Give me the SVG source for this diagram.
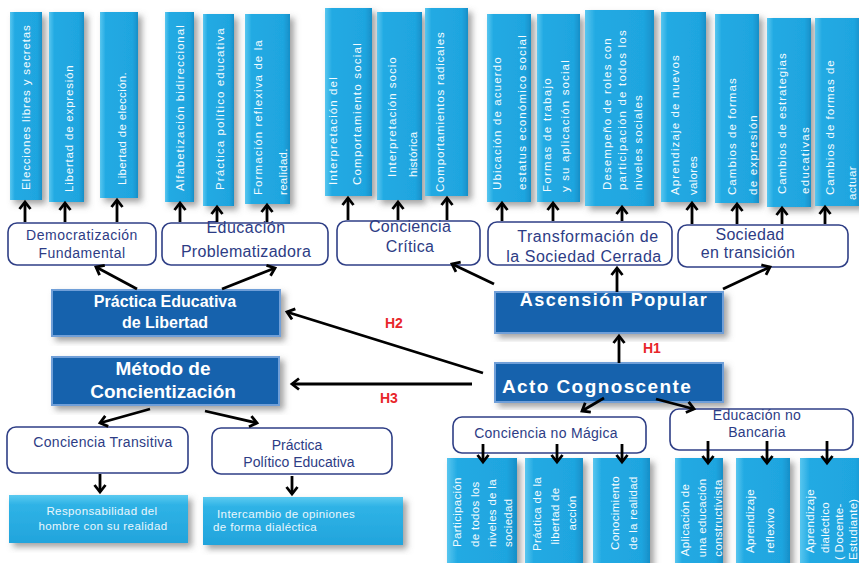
<svg xmlns="http://www.w3.org/2000/svg" width="859" height="563" viewBox="0 0 859 563">
<style>
.vb{fill:url(#gv);filter:url(#sh)}
.lb{fill:url(#gl);filter:url(#sh)}
.db{fill:#1762ad;stroke:#6f9fd8;stroke-width:2;filter:url(#sh)}
.wb{fill:#fff;stroke:#2f3f86;stroke-width:1.6}
.vt{font-family:"Liberation Sans",Arial,sans-serif;font-size:11.5px;fill:#f4fbff;letter-spacing:0.3px}
.wt{font-family:"Liberation Sans",Arial,sans-serif;fill:#2d3c85;text-anchor:middle}
.dt{font-family:"Liberation Sans",Arial,sans-serif;font-weight:bold;fill:#fff;text-anchor:middle}
.lt{font-family:"Liberation Sans",Arial,sans-serif;font-size:11.5px;fill:#eaf7fd;letter-spacing:0.4px}
.h{font-family:"Liberation Sans",Arial,sans-serif;font-weight:bold;font-size:14px;fill:#e8262a}
.ar{fill:none;stroke:#000;stroke-width:2.8;marker-end:url(#ah)}
</style>
<defs>
<linearGradient id="gv" x1="0" y1="0" x2="1" y2="0">
<stop offset="0" stop-color="#58c6ef"/><stop offset="0.15" stop-color="#22aae3"/><stop offset="0.85" stop-color="#1fa5df"/><stop offset="1" stop-color="#178fc8"/>
</linearGradient>
<linearGradient id="gl" x1="0" y1="0" x2="0" y2="1">
<stop offset="0" stop-color="#5ccaf0"/><stop offset="0.2" stop-color="#2fb3e6"/><stop offset="1" stop-color="#22a4dc"/>
</linearGradient>
<filter id="sh" x="-20%" y="-10%" width="150%" height="130%">
<feDropShadow dx="4" dy="4" stdDeviation="3" flood-color="#666" flood-opacity="0.6"/>
</filter>
<marker id="ah" markerWidth="14" markerHeight="14" refX="10" refY="7" orient="auto" markerUnits="userSpaceOnUse">
<path d="M3,1.5 L10,7 L3,12.5" fill="none" stroke="#000" stroke-width="2.8"/>
</marker>
</defs>
<rect width="859" height="563" fill="#fff"/>

<!-- top vertical boxes -->
<g id="t1"><rect class="vb" x="10" y="12" width="32" height="188"/><text class="vt" transform="translate(30,190) rotate(-90)" textLength="165">Elecciones libres y secretas</text></g>
<g id="t2"><rect class="vb" x="49" y="12" width="35" height="190"/><text class="vt" transform="translate(73,192) rotate(-90)" textLength="127">Libertad de expresión</text></g>
<g id="t3"><rect class="vb" x="100" y="12" width="38" height="186"/><text class="vt" transform="translate(126,185) rotate(-90)" textLength="113">Libertad de elección.</text></g>
<g id="t4"><rect class="vb" x="165" y="12" width="29" height="190"/><text class="vt" transform="translate(184,191) rotate(-90)" textLength="166">Alfabetización  bidireccional</text></g>
<g id="t5"><rect class="vb" x="203" y="14" width="31" height="192"/><text class="vt" transform="translate(224,190) rotate(-90)" textLength="162">Práctica  político educativa</text></g>
<g id="t6"><rect class="vb" x="245" y="14" width="45" height="190"/><text class="vt" transform="translate(262,195) rotate(-90)" textLength="155">Formación reflexiva  de la</text><text class="vt" transform="translate(287,195) rotate(-90)">realidad.</text></g>
<g id="t7"><rect class="vb" x="325" y="8" width="47" height="188"/><text class="vt" transform="translate(337,185) rotate(-90)" textLength="108">Interpretación  del</text><text class="vt" transform="translate(361,185) rotate(-90)" textLength="142">Comportamiento  social</text></g>
<g id="t8"><rect class="vb" x="377" y="12" width="45" height="188"/><text class="vt" transform="translate(396,177) rotate(-90)" textLength="120">Interpretación  socio</text><text class="vt" transform="translate(417,177) rotate(-90)">histórica</text></g>
<g id="t9"><rect class="vb" x="425" y="8" width="43" height="188"/><text class="vt" transform="translate(444,192) rotate(-90)" textLength="160">Comportamientos radicales</text></g>
<g id="t10"><rect class="vb" x="487" y="14" width="44" height="188"/><text class="vt" transform="translate(501,190) rotate(-90)" textLength="133">Ubicación de acuerdo</text><text class="vt" transform="translate(526,190) rotate(-90)" textLength="155">estatus económico social</text></g>
<g id="t11"><rect class="vb" x="537" y="14" width="43" height="188"/><text class="vt" transform="translate(551,192) rotate(-90)" textLength="114">Formas de trabajo</text><text class="vt" transform="translate(569,192) rotate(-90)" textLength="132">y  su aplicación  social</text></g>
<g id="t12"><rect class="vb" x="585" y="10" width="69" height="196"/><text class="vt" transform="translate(611,190) rotate(-90)" textLength="152">Desempeño de roles  con</text><text class="vt" transform="translate(626,190) rotate(-90)" textLength="160">participación  de  todos los</text><text class="vt" transform="translate(642,190) rotate(-90)" textLength="95">niveles   sociales</text></g>
<g id="t13"><rect class="vb" x="661" y="12" width="45" height="190"/><text class="vt" transform="translate(679,195) rotate(-90)" textLength="140">Aprendizaje de nuevos</text><text class="vt" transform="translate(697,195) rotate(-90)">valores</text></g>
<g id="t14"><rect class="vb" x="715" y="14" width="44" height="189"/><text class="vt" transform="translate(736,195) rotate(-90)" textLength="117">Cambios de formas</text><text class="vt" transform="translate(757,195) rotate(-90)" textLength="80">de expresión</text></g>
<g id="t15"><rect class="vb" x="767" y="18" width="44" height="189"/><text class="vt" transform="translate(786,194) rotate(-90)" textLength="141">Cambios de estrategias</text><text class="vt" transform="translate(809,194) rotate(-90)" textLength="67">educativas</text></g>
<g id="t16"><rect class="vb" x="815" y="18" width="46" height="188"/><text class="vt" transform="translate(834,195) rotate(-90)" textLength="135">Cambios de formas de</text><text class="vt" transform="translate(856,200) rotate(-90)">actuar</text></g>

<!-- white boxes row -->
<g id="w1"><rect class="wb" x="8" y="223" width="148" height="42" rx="9"/><text class="wt" x="82" y="240" font-size="14" letter-spacing="0.5">Democratización</text><text class="wt" x="82" y="258" font-size="14" letter-spacing="0.5">Fundamental</text></g>
<g id="w2"><rect class="wb" x="162" y="223" width="166" height="42" rx="9"/><text class="wt" x="246" y="233" font-size="16" letter-spacing="0.5">Educación</text><text class="wt" x="246" y="257" font-size="16" letter-spacing="0.3">Problematizadora</text></g>
<g id="w3"><rect class="wb" x="337" y="221" width="143" height="44" rx="9"/><text class="wt" x="410" y="232" font-size="16" letter-spacing="0.3">Conciencia</text><text class="wt" x="410" y="252" font-size="16" letter-spacing="0.3">Crítica</text></g>
<g id="w4"><rect class="wb" x="488" y="222" width="184" height="43" rx="9"/><text class="wt" x="588" y="242" font-size="16" letter-spacing="0.5">Transformación de</text><text class="wt" x="584" y="262" font-size="16" letter-spacing="0.5">la Sociedad  Cerrada</text></g>
<g id="w5"><rect class="wb" x="678" y="225" width="170" height="42" rx="9"/><text class="wt" x="750" y="240" font-size="16" letter-spacing="0.3">Sociedad</text><text class="wt" x="748" y="258" font-size="16" letter-spacing="0.3">en transición</text></g>

<!-- dark boxes -->
<g id="d1"><rect class="db" x="52" y="290" width="228" height="46"/><text class="dt" x="165" y="307" font-size="16">Práctica Educativa</text><text class="dt" x="165" y="328" font-size="16">de Libertad</text></g>
<g id="d2"><rect class="db" x="52" y="357" width="227" height="48"/><text class="dt" x="163" y="375" font-size="19">Método de</text><text class="dt" x="163" y="398" font-size="19">Concientización</text></g>
<g id="d3"><rect class="db" x="495" y="292" width="228" height="41"/><text class="dt" x="614" y="306" font-size="18" letter-spacing="1.5">Ascensión Popular</text></g>
<g id="d4"><rect class="db" x="495" y="363" width="228" height="39"/><text class="dt" x="502" y="393" font-size="19" style="text-anchor:start" letter-spacing="1.4">Acto  Cognoscente</text></g>

<!-- labels -->
<g id="labels"><text class="h" x="643" y="353">H1</text><text class="h" x="385" y="328">H2</text><text class="h" x="380" y="403">H3</text></g>

<!-- lower-left -->
<g id="w6"><rect class="wb" x="7" y="427" width="181" height="46" rx="9"/><text class="wt" x="103" y="447" font-size="14" letter-spacing="0.3">Conciencia Transitiva</text></g>
<g id="w7"><rect class="wb" x="212" y="428" width="180" height="46" rx="9"/><text class="wt" x="297" y="450" font-size="14">Práctica</text><text class="wt" x="299" y="467" font-size="14">Político Educativa</text></g>
<g id="l1"><rect class="lb" x="9" y="495" width="179" height="48"/><text class="lt" x="102" y="515" text-anchor="middle">Responsabilidad  del</text><text class="lt" x="103" y="530" text-anchor="middle">hombre  con su realidad</text></g>
<g id="l2"><rect class="lb" x="203" y="497" width="200" height="48"/><text class="lt" x="217" y="518">Intercambio  de opiniones</text><text class="lt" x="213" y="531">de forma dialéctica</text></g>

<!-- lower-right -->
<g id="w8"><rect class="wb" x="453" y="417" width="193" height="36" rx="9"/><text class="wt" x="546" y="438" font-size="14" letter-spacing="0.3">Conciencia no Mágica</text></g>
<g id="w9"><rect class="wb" x="670" y="409" width="183" height="41" rx="9"/><text class="wt" x="757" y="420" font-size="14" letter-spacing="0.3">Educación no</text><text class="wt" x="757" y="437" font-size="14" letter-spacing="0.3">Bancaria</text></g>
<g id="b1"><rect class="vb" x="447" y="458" width="70" height="110"/><text class="vt" transform="translate(461,547) rotate(-90)">Participación</text><text class="vt" transform="translate(479,547) rotate(-90)">de todos los</text><text class="vt" transform="translate(496,547) rotate(-90)">niveles de la</text><text class="vt" transform="translate(512,547) rotate(-90)">sociedad</text></g>
<g id="b2"><rect class="vb" x="525" y="458" width="58" height="110"/><text class="vt" text-anchor="middle" transform="translate(541,514) rotate(-90)">Práctica  de la</text><text class="vt" text-anchor="middle" transform="translate(559,516) rotate(-90)">libertad de</text><text class="vt" text-anchor="middle" transform="translate(576,513) rotate(-90)">acción</text></g>
<g id="b3"><rect class="vb" x="593" y="458" width="57" height="110"/><text class="vt" text-anchor="middle" transform="translate(619,513) rotate(-90)">Conocimiento</text><text class="vt" text-anchor="middle" transform="translate(637,513) rotate(-90)">de la realidad</text></g>
<g id="b4"><rect class="vb" x="675" y="458" width="48" height="110"/><text class="vt" text-anchor="middle" transform="translate(689,520) rotate(-90)">Aplicación  de</text><text class="vt" text-anchor="middle" transform="translate(706,518) rotate(-90)">una  educación</text><text class="vt" text-anchor="middle" transform="translate(722,518) rotate(-90)">constructivista</text></g>
<g id="b5"><rect class="vb" x="736" y="458" width="54" height="110"/><text class="vt" transform="translate(754,553) rotate(-90)">Aprendizaje</text><text class="vt" transform="translate(774,553) rotate(-90)">reflexivo</text></g>
<g id="b6"><rect class="vb" x="800" y="458" width="65" height="110"/><text class="vt" font-size="10.5" transform="translate(814,553) rotate(-90)">Aprendizaje</text><text class="vt" font-size="10.5" transform="translate(829,553) rotate(-90)">dialéctico</text><text class="vt" font-size="10.5" transform="translate(843,560) rotate(-90)">( Docente-</text><text class="vt" font-size="10.5" transform="translate(857,560) rotate(-90)">Estudiante)</text></g>

<!-- connectors -->
<g id="connectors">
<path class="ar" d="M25,222 L25,202"/>
<path class="ar" d="M65,222 L65,203"/>
<path class="ar" d="M117,222 L117,200"/>
<path class="ar" d="M180,222 L180,203"/>
<path class="ar" d="M217,222 L217,207"/>
<path class="ar" d="M267,222 L267,205"/>
<path class="ar" d="M348,220 L348,198"/>
<path class="ar" d="M398,220 L398,202"/>
<path class="ar" d="M447,220 L447,198"/>
<path class="ar" d="M502,221 L502,203"/>
<path class="ar" d="M553,221 L553,203"/>
<path class="ar" d="M622,221 L622,207"/>
<path class="ar" d="M692,224 L692,203"/>
<path class="ar" d="M737,224 L737,204"/>
<path class="ar" d="M782,224 L782,208"/>
<path class="ar" d="M825,224 L825,207"/>
<path class="ar" d="M137,289 L96,267"/>
<path class="ar" d="M222,289 L275,268"/>
<path class="ar" d="M494,284 L452,264"/>
<path class="ar" d="M617,292 L617,268"/>
<path class="ar" d="M723,289 L770,267"/>
<path class="ar" d="M619,363 L619,336"/>
<path class="ar" d="M483,373 L287,312"/>
<path class="ar" d="M472,384 L292,384"/>
<path class="ar" d="M150,409 L100,423"/>
<path class="ar" d="M205,411 L257,423"/>
<path class="ar" d="M100,474 L100,492"/>
<path class="ar" d="M292,476 L292,494"/>
<path class="ar" d="M604,398 L582,411"/>
<path class="ar" d="M656,399 L694,409"/>
<path class="ar" d="M483,444 L483,462"/>
<path class="ar" d="M557,444 L557,462"/>
<path class="ar" d="M622,444 L622,462"/>
<path class="ar" d="M708,441 L708,463"/>
<path class="ar" d="M767,441 L767,463"/>
<path class="ar" d="M827,441 L827,463"/>
</g>
</svg>
